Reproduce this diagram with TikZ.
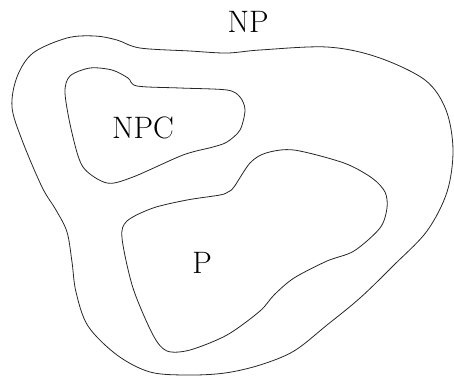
\documentclass[tikz,border=0pt]{standalone}
\begin{document}
\begin{tikzpicture}[x=1pt,y=-1pt,
  lbl/.style={font=\fontsize{31}{37}\selectfont, inner sep=0pt}]
\useasboundingbox (0,0) rectangle (454,376);
% NP outer region
\draw[line width=0.8pt, draw=black!85] plot[smooth cycle, tension=0.55] coordinates {
  (140,48) (190,51) (227,53) (260,50) (327,47) (377,57) (425,80) (446,110)
  (453,150) (447,192) (427,231) (394,265) (360,298) (327,325) (294,351)
  (260,365) (225,373) (188,375) (150,372) (117,355) (88,326) (76,292)
  (72,262) (67,232) (56,210) (42,187) (22,140) (12,107) (17,77) (33,53)
  (67,38) (95,36) (117,40)};
% NPC region
\draw[line width=0.8pt, draw=black!85] plot[smooth cycle, tension=0.5] coordinates {
  (137,86) (180,88) (227,90) (240,97) (245,110) (240,130) (227,142)
  (213,147) (183,155) (133,177) (107,183) (83,167) (72,133) (65,93)
  (70,76) (90,68) (112,70) (128,78)};
% P region
\draw[line width=0.8pt, draw=black!85] plot[smooth cycle, tension=0.5] coordinates {
  (234,187) (250,163) (266,153) (294,150) (344,163) (372,178) (385,192)
  (387,208) (380,228) (354,251) (327,261) (294,278) (274,295) (260,311)
  (227,335) (190,350) (167,351) (153,335) (133,288) (122,238) (127,221)
  (153,208) (187,200) (220,195) (228,192)};
\node[lbl] (np) at (248,22) {NP};
\node[lbl] (npc) at (143,128) {NPC};
\node[lbl] (p) at (202,263) {P};
\end{tikzpicture}
\end{document}
